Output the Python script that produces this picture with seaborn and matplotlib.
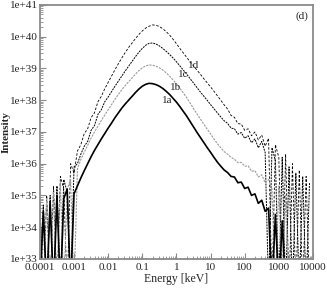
import numpy as np
import pandas as pd
import seaborn as sns
import matplotlib.pyplot as plt
from matplotlib.ticker import FixedLocator, FuncFormatter, LogLocator, NullFormatter

# ==================== DATA ====================
# log10(energy / keV), shared sampling for all four spectra
log_energy = [
    -4.0, -3.9, -3.8, -3.7, -3.6, -3.5, -3.4, -3.3, -3.2, -3.1,
    -3.0, -2.9, -2.8, -2.7, -2.6, -2.5, -2.4, -2.3, -2.2, -2.1,
    -2.0, -1.9, -1.8, -1.7, -1.6, -1.5, -1.4, -1.3, -1.2, -1.1,
    -1.0, -0.9, -0.8, -0.7, -0.6, -0.5, -0.4, -0.3, -0.2, -0.1,
    0.0, 0.1, 0.2, 0.3, 0.4, 0.5, 0.6, 0.7, 0.8, 0.9,
    1.0, 1.1, 1.2, 1.3, 1.4, 1.5, 1.6, 1.7, 1.8, 1.9,
    2.0, 2.1, 2.2, 2.3, 2.4, 2.5, 2.6, 2.7, 2.8, 2.9,
    3.0, 3.1, 3.2, 3.3, 3.4, 3.5, 3.6, 3.7, 3.8, 3.9,
    4.0,
]

nan = np.nan
# log10(intensity); 32 = empty bin (falls below the axis)
log_int_1a = [
    32, 34.5, 32, 34.8, 32, 35.0, 32, 34.9, 35.2, 32,
    35.05, 35.3, 35.55, 35.78, 36.0, 36.22, 36.42, 36.6, 36.78, 36.95,
    37.12, 37.28, 37.45, 37.6, 37.75, 37.88, 38.0, 38.12, 38.24, 38.35,
    38.44, 38.5, 38.53, 38.52, 38.49, 38.44, 38.37, 38.28, 38.18, 38.06,
    37.94, 37.8, 37.65, 37.5, 37.33, 37.16, 36.99, 36.83, 36.67, 36.51,
    36.36, 36.2, 36.05, 35.92, 35.8, 35.72, 35.6, 35.58, 35.4, 35.42,
    35.22, 35.26, 35.0, 35.05, 34.75, 34.85, 34.5, 34.6, 32, 34.4,
    32, 34.2, 32, nan, nan, nan, nan, nan, nan, nan,
    nan,
]
log_int_1b = [
    34.6, 32, 34.9, 32, 35.1, 32, 35.4, 32, 35.2, 35.5,
    32, 35.85, 36.13, 36.36, 36.58, 36.8, 37.0, 37.18, 37.36, 37.53,
    37.7, 37.86, 38.03, 38.18, 38.33, 38.46, 38.58, 38.7, 38.82, 38.93,
    39.02, 39.08, 39.11, 39.1, 39.07, 39.02, 38.95, 38.86, 38.76, 38.64,
    38.52, 38.38, 38.23, 38.08, 37.91, 37.74, 37.57, 37.41, 37.25, 37.09,
    36.94, 36.78, 36.63, 36.5, 36.38, 36.3, 36.2, 36.14, 36.03, 36.04,
    35.92, 35.93, 35.76, 35.78, 35.58, 35.65, 35.4, 35.5, 35.2, 32,
    35.3, 32, 35.0, 32, nan, nan, nan, nan, nan, nan,
    nan,
]
log_int_1c = [
    32, 34.7, 32, 35.0, 32, 35.3, 32, 35.5, 35.1, 32,
    35.9, 36.0, 36.3, 36.55, 36.7, 37.05, 37.2, 37.55, 37.7, 37.95,
    38.1, 38.27, 38.44, 38.6, 38.76, 38.92, 39.07, 39.22, 39.37, 39.51,
    39.63, 39.73, 39.79, 39.8, 39.77, 39.71, 39.63, 39.54, 39.44, 39.33,
    39.21, 39.08, 38.95, 38.82, 38.68, 38.54, 38.4, 38.26, 38.13, 38.0,
    37.86, 37.73, 37.6, 37.47, 37.35, 37.27, 37.12, 37.1, 36.93, 36.98,
    36.8, 36.88, 36.66, 36.78, 36.5, 36.7, 36.35, 32, 36.5, 36.1,
    32, 36.2, 32, 35.9, 32, 35.7, 32, 35.6, 32, 35.4,
    nan,
]
log_int_1d = [
    34.8, 32, 35.0, 32, 35.3, 32, 35.6, 35.2, 32, 36.0,
    35.7, 36.4, 36.6, 36.95, 37.1, 37.45, 37.6, 37.95, 38.12, 38.36,
    38.56, 38.76, 38.96, 39.15, 39.33, 39.5, 39.66, 39.8, 39.94, 40.07,
    40.18, 40.27, 40.33, 40.37, 40.36, 40.32, 40.25, 40.16, 40.05, 39.92,
    39.78, 39.63, 39.49, 39.35, 39.21, 39.08, 38.95, 38.82, 38.68, 38.55,
    38.42, 38.28, 38.14, 38.0, 37.85, 37.72, 37.52, 37.46, 37.26, 37.25,
    37.05, 37.1, 36.88, 37.0, 36.75, 36.9, 36.55, 36.8, 32, 36.6,
    36.2, 32, 36.3, 32, 36.0, 32, 35.8, 32, 35.6, 32,
    nan,
]

labels = ["1a", "1b", "1c", "1d"]
label_energy = [0.55, 0.93, 1.58, 3.1]
label_intensity = [1.0e38, 2.45e38, 6.3e38, 1.26e39]

# ==================== PLOT ====================
sns.set_theme(style="ticks")
plt.rcParams["font.family"] = ["Liberation Serif", "DejaVu Serif"]

energy = 10.0 ** np.array(log_energy)
series = {"1a": log_int_1a, "1b": log_int_1b, "1c": log_int_1c, "1d": log_int_1d}
styles = {
    "1a": dict(color="black", lw=1.2, ls="-"),
    "1b": dict(color="#9a9a9a", lw=0.8, ls=(0, (2, 1))),
    "1c": dict(color="black", lw=0.7, ls=(0, (2, 1))),
    "1d": dict(color="black", lw=0.6, ls=(0, (3, 2))),
}

fig = plt.figure(figsize=(3.27, 2.89), dpi=100)
ax = fig.add_axes([0.122, 0.104, 0.835, 0.879])

for name in ["1d", "1c", "1b", "1a"]:
    df = pd.DataFrame({"E": energy, "I": 10.0 ** np.array(series[name])}).dropna()
    st = styles[name]
    sns.lineplot(data=df, x="E", y="I", ax=ax, sort=False, estimator=None,
                 color=st["color"], linewidth=st["lw"], linestyle=st["ls"])

ax.set_xscale("log")
ax.set_yscale("log")
ax.set_xlim(1e-4, 1e4)
ax.set_ylim(1e33, 1e41)

xt = [1e-4, 1e-3, 1e-2, 1e-1, 1, 10, 100, 1000, 10000]
ax.xaxis.set_major_locator(FixedLocator(xt))
ax.set_xticklabels(["0.0001", "0.001", "0.01", "0.1", "1", "10", "100", "1000", "10000"])
ax.xaxis.set_minor_locator(LogLocator(base=10, subs=np.arange(2, 10), numticks=20))
ax.xaxis.set_minor_formatter(NullFormatter())

ax.yaxis.set_major_locator(FixedLocator([10.0 ** k for k in range(33, 42)]))
ax.yaxis.set_major_formatter(FuncFormatter(lambda v, p: "1e+%d" % int(round(np.log10(v)))))
ax.yaxis.set_minor_locator(LogLocator(base=10, subs=np.arange(2, 10), numticks=20))
ax.yaxis.set_minor_formatter(NullFormatter())

for s in ax.spines.values():
    s.set_color("#8a8a8a")
    s.set_linewidth(1.3)
ax.tick_params(which="both", direction="in", color="#8a8a8a", labelsize=8,
               top=False, right=False)
ax.tick_params(axis="y", pad=1.5)
ax.tick_params(axis="x", pad=3)
ax.tick_params(which="major", length=4, width=0.8)
ax.tick_params(which="minor", length=2, width=0.6)

ax.set_xlabel("Energy [keV]", fontsize=8.5, labelpad=1)
ax.set_ylabel("Intensity", fontsize=8, fontweight="bold")
ax.yaxis.set_label_coords(-0.108, 0.5)

for lab, ex, iy in zip(labels, label_energy, label_intensity):
    ax.text(ex, iy, lab, fontsize=8, ha="center", va="center")
ax.text(0.982, 0.975, "(d)", transform=ax.transAxes, fontsize=8, ha="right", va="top")

plt.savefig("out.png", dpi=100)
plt.close()
